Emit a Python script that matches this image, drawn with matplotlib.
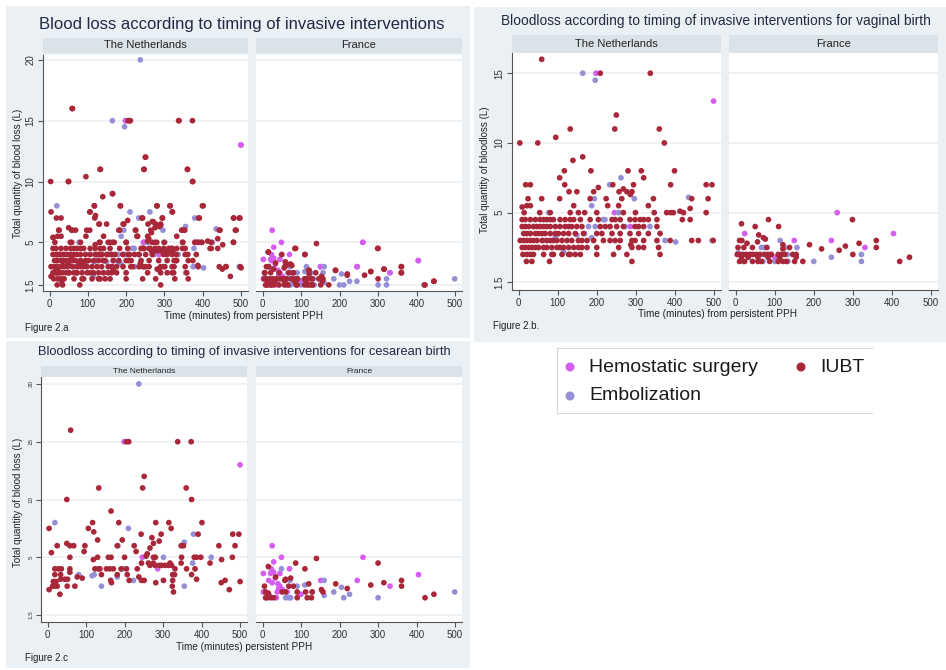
import matplotlib
matplotlib.use("Agg")
import matplotlib.pyplot as plt
from matplotlib.patches import Rectangle

plt.rcParams['font.family'] = ['Liberation Sans', 'DejaVu Sans']

# ---- data: (minutes from persistent PPH, total blood loss in L) ----
# vaginal birth, The Netherlands
nl_vag_iubt = [(59, 16), (209, 15), (337, 15), (250, 12), (132, 11), (246, 11), (360, 11),
               (3, 10), (49, 10), (95, 10.4), (373, 10), (139, 8.75), (164, 9), (117, 8), (185, 8),
               (280, 8), (314, 8), (399, 8), (105, 7.5), (320, 7.5), (18, 7), (30, 7), (118, 7),
               (241, 7), (294, 7), (389, 7), (480, 7), (495, 7), (204, 6.8), (268, 6.7), (277, 6.5),
               (290, 6.5), (129, 6.5), (149, 6.5), (192, 6.5), (257, 6.5), (286, 6.3), (24, 6),
               (59, 6), (105, 6), (183, 6), (224, 6), (264, 6), (345, 6), (443, 6), (485, 6),
               (9, 5.4), (21, 5.5), (30, 5.5), (141, 5.5), (228, 5.5), (256, 5.5), (332, 5.5),
               (413, 5.1), (439, 5.3), (14, 5), (54, 5), (81, 5), (132, 5), (153, 5), (169, 5),
               (200, 5), (268, 5), (299, 5), (347, 5), (379, 5), (389, 5), (396, 5), (422, 5),
               (480, 5), (287, 2.7), (419, 4.5), (439, 4.5)]
# dense part of the same cluster, one list of minutes per blood loss level
nl_vag_iubt_rows = {
    4.5: [9, 17, 30, 43, 55, 64, 72, 81, 89, 106, 119, 132, 141, 158, 183, 204, 239, 247, 260,
          285, 298, 311, 320, 332, 354],
    4.0: [9, 17, 26, 38, 47, 55, 64, 72, 81, 94, 106, 119, 128, 136, 149, 162, 209, 222, 234,
          251, 268, 298, 307, 320, 354],
    3.5: [13, 21, 30, 43, 51, 60, 68, 81, 94, 102, 115, 128, 145, 166, 200, 213, 239, 260, 285,
          307, 332, 362],
    3.0: [4, 13, 21, 30, 38, 47, 60, 72, 81, 89, 98, 111, 124, 136, 153, 162, 175, 192, 217,
          234, 247, 260, 290, 298, 320, 354, 388, 443, 460, 498],
    2.5: [9, 17, 26, 34, 43, 51, 64, 72, 85, 98, 106, 115, 128, 141, 153, 162, 175, 200, 256,
          290, 307, 320, 358],
    2.0: [11, 21, 30, 38, 64, 85, 89, 111, 128, 132, 145, 158, 200, 243, 277, 362],
    1.5: [20, 34, 79, 290],
}
nl_vag_emb = [(164, 15), (196, 14.5), (262, 7.5), (233, 7), (194, 6), (296, 6), (435, 6.1),
              (187, 5.5), (77, 5), (256, 5), (216, 4.5), (221, 4.5), (336, 4), (273, 4), (179, 4),
              (196, 4), (169, 3.5), (149, 3.4), (64, 3), (115, 2.2), (375, 3), (402, 2.9),
              (495, 3), (94, 3.3), (187, 3.2)]
nl_vag_surg = [(198, 15), (499, 13), (245, 5), (286, 4)]

# vaginal birth, France
fr_vag_iubt = [(299, 4.5), (84, 4.5), (15, 4.2), (50, 4), (110, 4), (59, 3.4), (71, 3.2),
               (76, 3.1), (10, 3), (16, 3), (360, 3), (29, 2.8), (56, 2.9), (121, 2.7), (189, 2.7),
               (316, 2.8), (281, 2.6), (6, 2.5), (21, 2.5), (43, 2.5), (80, 2.5), (138, 2.5),
               (220, 2.4), (360, 2.5), (265, 2.3), (121, 2.4), (4, 2), (10, 2), (19, 2), (27, 2),
               (36, 2), (45, 2), (53, 2), (62, 2), (75, 2), (83, 2), (91, 2), (109, 2), (117, 2),
               (126, 2), (146, 2), (155, 2), (300, 2), (15, 1.8), (32, 1.8), (57, 1.8), (83, 1.8),
               (113, 1.8), (155, 1.8), (10, 1.5), (23, 1.5), (43, 1.5), (57, 1.5), (66, 1.5),
               (87, 1.5), (109, 1.5), (121, 1.5), (130, 1.5), (151, 1.5), (172, 1.5), (420, 1.5),
               (445, 1.8)]
fr_vag_emb = [(114, 3), (66, 2.5), (74, 2.5), (125, 2.5), (157, 2.5), (6, 2.1), (70, 2),
              (91, 2), (322, 2), (132, 2), (245, 1.8), (19, 1.5), (70, 1.5), (100, 1.5),
              (134, 1.5), (200, 1.5), (322, 1.5)]
fr_vag_surg = [(260, 5), (23, 3.5), (404, 3.5), (150, 3), (245, 3), (331, 2.5), (100, 1.8),
               (40, 2)]

# cesarean birth, The Netherlands
nl_ces_iubt = [(60, 16), (205, 15), (211, 15), (338, 15), (373, 15), (251, 12), (133, 11),
               (247, 11), (360, 11), (50, 10), (374, 10), (165, 9), (117, 8), (185, 8), (281, 8),
               (315, 8), (401, 8), (4, 7.5), (106, 7.5), (321, 7.5), (120, 7.2), (130, 6.5),
               (243, 7), (295, 7), (391, 7), (481, 7), (497, 7), (194, 6.5), (271, 6.7),
               (25, 6), (58, 6), (68, 6), (97, 6), (181, 6), (225, 6), (347, 6), (353, 6),
               (445, 6), (487, 6), (50, 6.2), (10, 5.4), (95, 5.5), (230, 5.5), (259, 5.3),
               (256, 5.1), (266, 5.8), (275, 6.2), (290, 6.4), (58, 5), (158, 5), (165, 5),
               (200, 5), (275, 5), (280, 5), (348, 5), (381, 5), (387, 5), (398, 5), (480, 5),
               (119, 4.8), (130, 5), (244, 4.5), (262, 4.5), (275, 4.5), (290, 4.3), (296, 4.3),
               (318, 4.5), (347, 4.5), (422, 4.5), (452, 4.8), (19, 4), (28, 4), (36, 4),
               (58, 4), (123, 4), (132, 4), (136, 4), (153, 4), (162, 4), (171, 4), (191, 4),
               (205, 4), (233, 4), (266, 4.3), (279, 4.3), (305, 4.3), (314, 4.3), (322, 4.3),
               (331, 4), (361, 4), (383, 4), (19, 3.5), (34, 3.5), (58, 3.7), (77, 3.3),
               (90, 3.2), (140, 3.5), (181, 3.5), (207, 3.5), (325, 3.5), (330, 3.5), (374, 3.5),
               (15, 2.9), (22, 2.9), (34, 3.1), (45, 3.1), (52, 3.1), (164, 3), (212, 3),
               (237, 3.3), (244, 3), (251, 3), (281, 2.8), (301, 3), (325, 3), (387, 3.1),
               (461, 3), (500, 2.9), (13, 2.5), (19, 2.5), (25, 2.5), (51, 2.5), (71, 2.5),
               (166, 2.8), (324, 2.5), (451, 2.8), (4, 2.2), (32, 1.8), (327, 2), (472, 2.2)]
nl_ces_emb = [(237, 20), (19, 8), (210, 7.5), (379, 7), (183, 6), (355, 6.3), (301, 5),
              (425, 5), (196, 4), (377, 4.5), (81, 3.5), (116, 3.4), (121, 3.5), (181, 3.3),
              (223, 3), (140, 2.5), (355, 2.5)]
nl_ces_surg = [(199, 15), (500, 13), (246, 5), (286, 4)]

# cesarean birth, France
fr_ces_iubt = [(140, 4.9), (86, 4.5), (300, 4.5), (15, 4.2), (110, 4), (58, 3), (73, 3.2),
               (60, 3.1), (361, 3), (361, 2.5), (315, 2.8), (281, 2.6), (190, 2.7), (220, 2.3),
               (120, 2.7), (80, 2.5), (68, 2.5), (5, 2.5), (422, 1.5), (445, 1.8), (8, 2), (15, 1.9),
               (51, 2), (60, 2), (90, 2), (112, 2), (129, 2), (153, 2.2), (157, 2), (8, 1.5),
               (12, 1.5), (21, 1.5), (29, 1.5), (90, 1.5), (116, 1.5), (127, 1.5), (34, 3.3)]
fr_ces_emb = [(49, 4), (71, 3), (160, 3), (90, 2.5), (110, 2.6), (205, 2.4), (185, 2),
              (226, 1.8), (160, 1.7), (211, 1.5), (300, 1.5), (499, 2), (60, 1.5), (68, 1.5),
              (73, 1.5), (129, 2)]
fr_ces_surg = [(25, 6), (49, 5), (261, 5), (29, 4.6), (23, 4), (70, 4), (2, 3.6), (21, 3.6),
               (29, 3.7), (45, 3.6), (405, 3.5), (16, 3), (151, 3), (246, 3), (331, 2.5),
               (45, 2.5), (6, 2), (2, 2), (38, 2), (64, 2), (42, 2.3), (36, 1.5), (100, 1.8),
               (25, 2.8), (33, 3.2), (52, 2.2), (18, 1.7), (40, 2.7)]

groups = ['Hemostatic surgery', 'Embolization', 'IUBT']
colors = {'Hemostatic surgery': '#d55ef0', 'Embolization': '#9590d6', 'IUBT': '#a8283a'}


def expand_rows(rows):
    return [(x, y) for y, xs in rows.items() for x in xs]


nl_vag_iubt_all = nl_vag_iubt + expand_rows(nl_vag_iubt_rows)

# figure 2.a is all births together
vag = {'nl': {'Hemostatic surgery': nl_vag_surg, 'Embolization': nl_vag_emb, 'IUBT': nl_vag_iubt_all},
       'fr': {'Hemostatic surgery': fr_vag_surg, 'Embolization': fr_vag_emb, 'IUBT': fr_vag_iubt}}
ces = {'nl': {'Hemostatic surgery': nl_ces_surg, 'Embolization': nl_ces_emb, 'IUBT': nl_ces_iubt},
       'fr': {'Hemostatic surgery': fr_ces_surg, 'Embolization': fr_ces_emb, 'IUBT': fr_ces_iubt}}
allb = {c: {g: vag[c][g] + ces[c][g] for g in groups} for c in ('nl', 'fr')}

W, H = 946, 670
fig = plt.figure(figsize=(W / 100, H / 100), dpi=100)
fig.patch.set_facecolor('white')

PANEL_BG = '#eaf0f3'
STRIP_BG = '#dbe3e9'
GRID = '#edf1f4'
NAVY = '#1f2a44'
TXT = '#222222'


def fx(x):
    return x / W


def fy(y):
    return 1 - y / H


def add_ax(x0, y0, x1, y1, **kw):
    return fig.add_axes([fx(x0), fy(y1), (x1 - x0) / W, (y1 - y0) / H], **kw)


def panel_rect(x0, y0, x1, y1):
    fig.patches.append(Rectangle((fx(x0), fy(y1)), (x1 - x0) / W, (y1 - y0) / H,
                                 transform=fig.transFigure, facecolor=PANEL_BG,
                                 edgecolor='none', zorder=-10))


def draw_sub(box, strip, label, data, ylim, yticks, ylabels, first, strip_fs, ytick_fs):
    ax = add_ax(*box)
    ax.set_facecolor('white')
    for g in groups:
        pts = data[g]
        if pts:
            ax.scatter([p[0] for p in pts], [p[1] for p in pts], s=17, color=colors[g],
                       edgecolors='none', zorder=3)
    ax.set_xlim(-17, 518)
    ax.set_ylim(*ylim)
    ax.set_xticks([0, 100, 200, 300, 400, 500])
    ax.set_yticks(yticks)
    ax.yaxis.grid(True, color=GRID, lw=1.3, zorder=0)
    ax.set_axisbelow(True)
    ax.tick_params(axis='x', labelsize=7, colors='#555555', labelcolor='#333333',
                   length=3.5, width=0.8, pad=2)
    ax.spines['top'].set_visible(False)
    ax.spines['right'].set_visible(False)
    ax.spines['bottom'].set_color('#555555')
    if first:
        ax.set_yticklabels(ylabels, rotation=90, va='center')
        ax.tick_params(axis='y', labelsize=ytick_fs, colors='#555555', labelcolor='#333333',
                       length=3.5, width=0.8, pad=2)
        ax.spines['left'].set_color('#555555')
    else:
        ax.tick_params(axis='y', left=False, labelleft=False)
        ax.spines['left'].set_visible(False)
    sx = add_ax(*strip)
    sx.set_facecolor(STRIP_BG)
    sx.set_xticks([])
    sx.set_yticks([])
    for sp in sx.spines.values():
        sp.set_visible(False)
    sx.text(0.5, 0.5, label, ha='center', va='center', fontsize=strip_fs, color=TXT,
            transform=sx.transAxes)
    return ax


# ---- Figure 2.a ----
panel_rect(6, 6, 470, 338)
ya = (1.0, 20.4)
draw_sub((43, 55, 248, 291), (43, 38, 248, 53), 'The Netherlands', allb['nl'], ya,
         [1.5, 5, 10, 15, 20], ['1.5', '5', '10', '15', '20'], True, 8, 7)
draw_sub((256, 55, 462, 291), (256, 38, 462, 53), 'France', allb['fr'], ya,
         [1.5, 5, 10, 15, 20], None, False, 8, 7)
fig.text(fx(242), fy(24), 'Blood loss according to timing of invasive interventions',
         ha='center', va='center', fontsize=12, color=NAVY)
fig.text(fx(18), fy(173), 'Total quantity of blood loss (L)', rotation=90,
         ha='center', va='center', fontsize=7, color=TXT)
fig.text(fx(244), fy(316), 'Time (minutes) from persistent PPH', ha='center', va='center',
         fontsize=7.2, color=TXT)
fig.text(fx(25), fy(328), 'Figure 2.a', ha='left', va='center', fontsize=7, color=TXT)

# ---- Figure 2.b ----
panel_rect(474, 7, 946, 342)
yb = (-0.55, 16.45)
draw_sub((512, 53, 721, 290), (512, 35, 721, 53), 'The Netherlands', vag['nl'], yb,
         [0, 5, 10, 15], ['1.5', '5', '10', '15'], True, 8, 7)
draw_sub((729, 53, 938, 290), (729, 35, 938, 53), 'France', vag['fr'], yb,
         [0, 5, 10, 15], None, False, 8, 7)
fig.text(fx(716), fy(21), 'Bloodloss according to timing of invasive interventions for vaginal birth',
         ha='center', va='center', fontsize=9.9, color=NAVY)
fig.text(fx(485), fy(170), 'Total quantity of bloodloss (L)', rotation=90,
         ha='center', va='center', fontsize=7, color=TXT)
fig.text(fx(717), fy(314), 'Time (minutes) from persistent PPH', ha='center', va='center',
         fontsize=7.2, color=TXT)
fig.text(fx(493), fy(326), 'Figure 2.b.', ha='left', va='center', fontsize=7, color=TXT)

# ---- Figure 2.c ----
panel_rect(6, 341, 470, 668)
yc = (-0.6, 20.6)
draw_sub((41, 377, 247, 622), (41, 366, 247, 377), 'The Netherlands', ces['nl'], yc,
         [0, 5, 10, 15, 20], ['1.5', '5', '10', '15', '20'], True, 6, 4.5)
draw_sub((256, 377, 462, 622), (256, 366, 462, 377), 'France', ces['fr'], yc,
         [0, 5, 10, 15, 20], None, False, 6, 4.5)
fig.text(fx(244), fy(352), 'Bloodloss according to timing of invasive interventions for cesarean birth',
         ha='center', va='center', fontsize=9.3, color=NAVY)
fig.text(fx(18), fy(502), 'Total quantity of blood loss (L)', rotation=90,
         ha='center', va='center', fontsize=7, color=TXT)
fig.text(fx(244), fy(647), 'Time (minutes) persistent PPH', ha='center', va='center',
         fontsize=7.2, color=TXT)
fig.text(fx(25), fy(658), 'Figure 2.c', ha='left', va='center', fontsize=7, color=TXT)

# ---- legend ----
lx = add_ax(557, 348, 872, 413)
lx.set_xlim(557, 872)
lx.set_ylim(413, 348)
lx.set_xticks([])
lx.set_yticks([])
lx.spines['right'].set_visible(False)
for k in ('left', 'top', 'bottom'):
    lx.spines[k].set_color('#d4d8dc')
    lx.spines[k].set_linewidth(0.8)
legend_pos = {'Hemostatic surgery': (570, 367), 'IUBT': (801, 367), 'Embolization': (570, 396)}
for g in groups:
    mx, my = legend_pos[g]
    lx.scatter([mx], [my], s=42, color=colors[g], edgecolors='none')
    lx.text(mx + 19, my, g, ha='left', va='center', fontsize=14, color='#1a1a1a')

fig.savefig('out.png', dpi=100)
